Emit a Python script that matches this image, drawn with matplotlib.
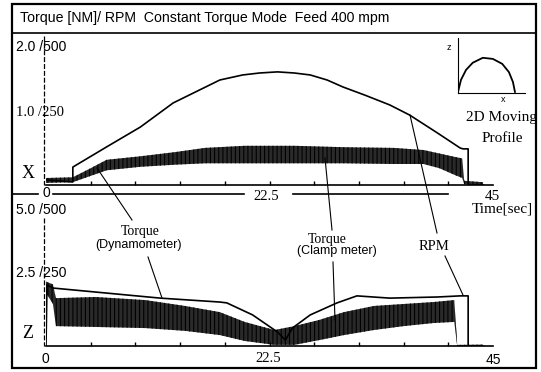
import matplotlib.pyplot as plt

# values: time [sec], spindle RPM, torque [Nm]
# X axis move (top panel)
x_rpm_t = [0, 2.7, 2.7, 6.1, 9.5, 12.8, 17.5, 19.8, 21.5, 23.3, 25.0, 26.6, 28.3, 29.9, 32.1, 34.6, 36.6, 39.4, 41.7, 42.0, 42.5, 42.5, 44.0]
x_rpm = [18, 11, 64, 136, 207, 293, 375, 393, 400, 404, 400, 393, 375, 350, 321, 286, 250, 186, 132, 129, 129, 0, 0]
x_trq_t = [0, 2.7, 4.5, 6.1, 9.5, 13, 16, 20, 25, 30, 35, 38, 39.6, 41.2, 41.9, 42.1, 44]
x_trq_hi = [0.10, 0.11, 0.24, 0.36, 0.41, 0.47, 0.53, 0.56, 0.56, 0.54, 0.53, 0.50, 0.45, 0.40, 0.38, 0.06, 0.04]
x_trq_lo = [0.03, 0.04, 0.13, 0.21, 0.26, 0.29, 0.31, 0.31, 0.31, 0.31, 0.30, 0.30, 0.24, 0.14, 0.10, 0.01, 0.00]

# Z axis move (bottom panel)
z_rpm_t = [0, 0.1, 0.7, 6.1, 11.5, 17.5, 18.2, 20.8, 23.3, 24.1, 24.8, 26.6, 29.3, 31.3, 34.6, 39.4, 41.7, 42.5, 42.5, 44]
z_rpm = [0, 218, 207, 189, 171, 157, 154, 111, 50, 21, 64, 111, 154, 179, 171, 175, 179, 179, 0, 0]
z_trq_t = [0, 0.7, 1.0, 5, 10, 14, 17.5, 20, 23, 25, 27.5, 30, 33, 36, 39, 41.1, 41.4, 44]
z_trq_hi = [2.30, 2.20, 1.71, 1.75, 1.64, 1.43, 1.21, 0.86, 0.57, 0.71, 0.93, 1.21, 1.43, 1.50, 1.57, 1.64, 0.04, 0.05]
z_trq_lo = [1.90, 1.50, 0.71, 0.68, 0.64, 0.54, 0.39, 0.18, 0.04, 0.04, 0.21, 0.39, 0.57, 0.71, 0.82, 0.86, 0.00, 0.00]

# inset: 2D moving profile (x, z)
prof_x = [0, 0.045, 0.12, 0.22, 0.37, 0.52, 0.66, 0.76, 0.82, 0.85]
prof_z = [0.02, 0.24, 0.42, 0.55, 0.64, 0.62, 0.53, 0.38, 0.20, 0.02]

time_ticks = [4.5 * i for i in range(1, 10)]

W, H = 541, 372
SERIF = 'Liberation Serif'
SANS = 'Liberation Sans'

fig = plt.figure(figsize=(W / 100, H / 100), dpi=100)
plt.rcParams['hatch.linewidth'] = 0.8


def px_box(left, top, right, bottom):
    return [left / W, 1 - bottom / H, (right - left) / W, (bottom - top) / H]


def panel(box, rpm_t, rpm, trq_t, trq_lo, trq_hi, trq_max):
    ax = fig.add_axes(box)
    ax.set_xlim(0, 45)
    ax.set_ylim(0, 500)
    ax.patch.set_alpha(0)
    for s in ['top', 'right', 'left']:
        ax.spines[s].set_visible(False)
    ax.spines['bottom'].set_linewidth(1.2)
    ax.set_xticks(time_ticks)
    ax.tick_params(axis='x', direction='in', length=3, width=1, labelbottom=False)
    ax.set_yticks([])
    tq = ax.twinx()
    tq.set_ylim(0, trq_max)
    tq.axis('off')
    tq.fill_between(trq_t, trq_lo, trq_hi, facecolor='#2a2a2a', edgecolor='black',
                    hatch='||||', linewidth=0)
    ax.plot(rpm_t, rpm, color='black', lw=1.2, zorder=5)
    ax.set_zorder(tq.get_zorder() + 1)
    return ax


panel(px_box(46, 45, 493, 185), x_rpm_t, x_rpm, x_trq_t, x_trq_lo, x_trq_hi, 2.0)
panel(px_box(46, 206, 493, 346), z_rpm_t, z_rpm, z_trq_t, z_trq_lo, z_trq_hi, 5.0)

# inset profile
ins = fig.add_axes(px_box(458, 38, 525, 93))
ins.plot(prof_x, prof_z, color='black', lw=1.3)
ins.set_xlim(0, 1)
ins.set_ylim(0, 1)
ins.set_xticks([])
ins.set_yticks([])
ins.spines['top'].set_visible(False)
ins.spines['right'].set_visible(False)
ins.patch.set_alpha(0)

# frame, labels and leader lines in pixel coordinates
ov = fig.add_axes([0, 0, 1, 1])
ov.set_xlim(0, W)
ov.set_ylim(H, 0)
ov.axis('off')
ov.patch.set_alpha(0)
ov.add_patch(plt.Rectangle((12, 4), 524, 364, fill=False, lw=1.6, color='black'))
ov.plot([12, 536], [33, 33], color='black', lw=1.2)
ov.plot([12, 38], [194, 194], color='black', lw=1.2)
ov.plot([53, 244], [194, 194], color='black', lw=1.2)
ov.plot([293, 448], [194, 194], color='black', lw=1.2)
ov.plot([44, 44], [36, 185], color='black', lw=0.9, ls=(0, (4, 1.5)))
ov.plot([44, 44], [218, 346], color='black', lw=0.9, ls=(0, (4, 1.5)))

ov.text(20, 18, 'Torque [NM]/ RPM  Constant Torque Mode  Feed 400 mpm',
        family=SANS, fontsize=10.2, va='center', ha='left')
ov.text(16, 47, '2.0 /500', family=SANS, fontsize=10, va='center')
ov.text(16, 112, '1.0 /250', family=SERIF, fontsize=10.5, va='center')
ov.text(22, 173, 'X', family=SERIF, fontsize=13, va='center')
ov.text(46, 193, '0', family=SANS, fontsize=10, va='center', ha='center')
ov.text(266, 196, '22.5', family=SERIF, fontsize=10.5, va='center', ha='center')
ov.text(492, 196, '45', family=SERIF, fontsize=11, va='center', ha='center')
ov.text(502, 209, 'Time[sec]', family=SERIF, fontsize=11, va='center', ha='center')

ov.text(16, 210, '5.0 /500', family=SANS, fontsize=10, va='center')
ov.text(16, 273, '2.5 /250', family=SANS, fontsize=10, va='center')
ov.text(22, 333, 'Z', family=SERIF, fontsize=13, va='center')
ov.text(45, 359, '0', family=SANS, fontsize=10, va='center', ha='center')
ov.text(268, 359, '22.5', family=SERIF, fontsize=10.5, va='center', ha='center')
ov.text(493, 360, '45', family=SANS, fontsize=10, va='center', ha='center')

ov.text(449, 48, 'z', family=SANS, fontsize=6.5, va='center', ha='center')
ov.text(503, 100, 'x', family=SANS, fontsize=6.5, va='center', ha='center')
ov.text(501, 118, '2D Moving', family=SERIF, fontsize=11, va='center', ha='center')
ov.text(502, 138, 'Profile', family=SERIF, fontsize=11, va='center', ha='center')

ov.text(140, 232, 'Torque', family=SERIF, fontsize=10, va='center', ha='center')
ov.text(139, 245, '(Dynamometer)', family=SANS, fontsize=9, va='center', ha='center')
ov.text(327, 239, 'Torque', family=SERIF, fontsize=10, va='center', ha='center')
ov.text(337, 251, '(Clamp meter)', family=SANS, fontsize=9, va='center', ha='center')
ov.text(434, 247, 'RPM', family=SERIF, fontsize=10.5, va='center', ha='center')

leaders = [
    ([97, 132], [168, 220]),
    ([148, 162], [257, 298]),
    ([325, 332], [158, 230]),
    ([333, 335], [262, 320]),
    ([410, 437], [115, 233]),
    ([445, 463], [256, 295]),
]
for lx, ly in leaders:
    ov.plot(lx, ly, color='black', lw=0.8)

fig.savefig('out.png', dpi=100)
